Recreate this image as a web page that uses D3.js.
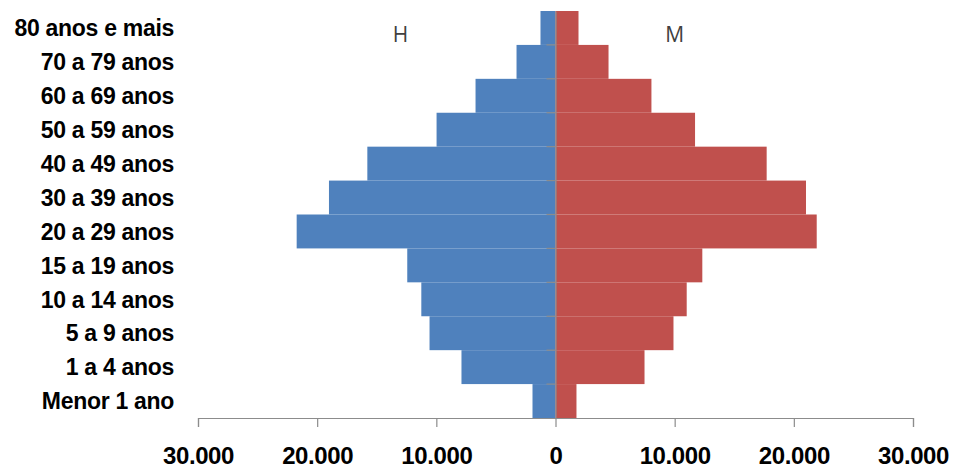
<!DOCTYPE html>
<html>
<head>
<meta charset="utf-8">
<script src="https://cdn.jsdelivr.net/npm/d3@7"></script>
<style>
  html, body { margin: 0; padding: 0; background: #fff; }
  svg { display: block; }
</style>
</head>
<body>
<svg id="chart" width="956" height="471"></svg>
<script>
// Age groups, from youngest (bottom) to oldest (top)
const categories = [
  "Menor 1 ano", "1 a 4 anos", "5 a 9 anos", "10 a 14 anos", "15 a 19 anos",
  "20 a 29 anos", "30 a 39 anos", "40 a 49 anos", "50 a 59 anos",
  "60 a 69 anos", "70 a 79 anos", "80 anos e mais"
];
// Men (H) and women (M) per age group
const homens   = [1930, 7890, 10570, 11260, 12440, 21720, 19010, 15790, 9980, 6710, 3270, 1260];
const mulheres = [1760, 7470, 9900, 11010, 12320, 21920, 21020, 17720, 11710, 8050, 4450, 1930];
const tickValues = [-30000, -20000, -10000, 0, 10000, 20000, 30000];
const seriesNames = ["H", "M"];

const svg = d3.select("#chart");
const labelFont = "'Liberation Sans', Arial, sans-serif";

const x = d3.scaleLinear().domain([-30000, 30000]).range([198, 913]);
const y = d3.scaleBand().domain(categories.slice().reverse()).range([11, 418]).padding(0);

const rows = categories.map((c, i) => ({ c, h: homens[i], m: mulheres[i] }));

// Left bars (H)
svg.append("g").selectAll("rect").data(rows).join("rect")
  .attr("x", d => x(-d.h))
  .attr("y", d => y(d.c))
  .attr("width", d => x(0) - x(-d.h))
  .attr("height", y.bandwidth())
  .attr("fill", "#4F81BD");

// Right bars (M)
svg.append("g").selectAll("rect").data(rows).join("rect")
  .attr("x", x(0))
  .attr("y", d => y(d.c))
  .attr("width", d => x(d.m) - x(0))
  .attr("height", y.bandwidth())
  .attr("fill", "#C0504D");

// Bottom value axis
const xAxis = d3.axisBottom(x)
  .tickValues(tickValues)
  .tickSize(9)
  .tickPadding(20)
  .tickFormat(v => v === 0 ? "0" : d3.format(",")(Math.abs(v)).replace(/,/g, "."));
const gx = svg.append("g").attr("transform", `translate(0,418)`).call(xAxis);
gx.select(".domain").attr("stroke", "#8c8c8c").attr("stroke-width", 1.2);
gx.selectAll(".tick line").attr("stroke", "#8c8c8c").attr("stroke-width", 1.2);
gx.selectAll(".tick text")
  .attr("font-family", labelFont)
  .attr("font-weight", "bold")
  .attr("font-size", 24)
  .attr("letter-spacing", -0.4)
  .attr("fill", "#000");

// Category axis on the centre line
const yAxis = d3.axisLeft(y).tickSize(0).tickFormat("");
const gy = svg.append("g").attr("transform", `translate(${x(0)},0)`).call(yAxis);
gy.select(".domain").attr("stroke", "#8c8c8c").attr("stroke-width", 1.2);
// Tick marks between age groups
const bounds = categories.slice().reverse().map(c => y(c)).slice(1);
gy.selectAll("line.sep").data(bounds).join("line")
  .attr("class", "sep")
  .attr("x1", -9).attr("x2", 0)
  .attr("y1", d => d).attr("y2", d => d)
  .attr("stroke", "#8c8c8c").attr("stroke-width", 1.2);

// Category labels on the left
svg.append("g").selectAll("text").data(categories).join("text")
  .attr("x", 174)
  .attr("y", d => y(d) + y.bandwidth() / 2)
  .attr("dy", "0.36em")
  .attr("text-anchor", "end")
  .attr("font-family", labelFont)
  .attr("font-weight", "bold")
  .attr("font-size", 23)
  .attr("letter-spacing", -0.3)
  .attr("fill", "#000")
  .text(d => d);

// Series labels
svg.append("g").selectAll("text").data(seriesNames).join("text")
  .attr("x", (d, i) => i === 0 ? x(-13000) : x(10000))
  .attr("y", 42)
  .attr("text-anchor", "middle")
  .attr("font-family", "'Open Sans', 'DejaVu Sans', sans-serif")
  .attr("font-size", 21)
  .attr("fill", "#404040")
  .text(d => d);
</script>
</body>
</html>
